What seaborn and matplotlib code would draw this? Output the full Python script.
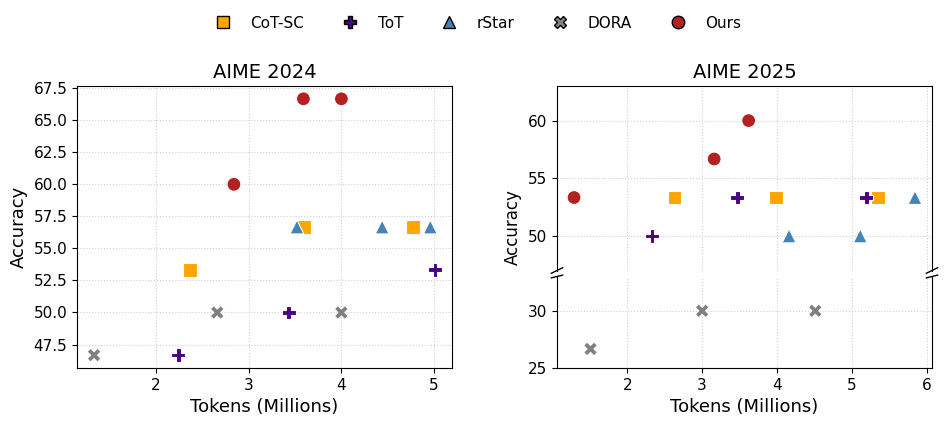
import matplotlib
matplotlib.use("Agg")
import matplotlib.pyplot as plt
import seaborn as sns
import pandas as pd
from matplotlib.lines import Line2D
from matplotlib.ticker import MultipleLocator

# ---------------- data ----------------
methods = ["CoT-SC", "ToT", "rStar", "DORA", "Ours"]

# AIME 2024
cot_sc_24_tokens = [2.37, 3.60, 4.77]
cot_sc_24_acc = [53.33, 56.67, 56.67]
tot_24_tokens = [2.24, 3.43, 5.01]
tot_24_acc = [46.67, 50.00, 53.33]
rstar_24_tokens = [3.52, 4.44, 4.96]
rstar_24_acc = [56.67, 56.67, 56.67]
dora_24_tokens = [1.33, 2.66, 4.00]
dora_24_acc = [46.67, 50.00, 50.00]
ours_24_tokens = [2.84, 3.59, 4.00]
ours_24_acc = [60.00, 66.67, 66.67]

# AIME 2025
cot_sc_25_tokens = [2.63, 3.98, 5.35]
cot_sc_25_acc = [53.33, 53.33, 53.33]
tot_25_tokens = [2.33, 3.47, 5.19]
tot_25_acc = [50.00, 53.33, 53.33]
rstar_25_tokens = [4.16, 5.11, 5.84]
rstar_25_acc = [50.00, 50.00, 53.33]
dora_25_tokens = [1.51, 3.00, 4.51]
dora_25_acc = [26.67, 30.00, 30.00]
ours_25_tokens = [1.29, 3.16, 3.62]
ours_25_acc = [53.33, 56.67, 60.00]

colors = {"CoT-SC": "#FFA500", "ToT": "#4B0082", "rStar": "#4682B4",
          "DORA": "#808080", "Ours": "#B22222"}
markers = {"CoT-SC": "s", "ToT": "P", "rStar": "^", "DORA": "X", "Ours": "o"}


def build(rows):
    recs = []
    for m, toks, accs in rows:
        for t, a in zip(toks, accs):
            recs.append({"Method": m, "Tokens": t, "Accuracy": a})
    return pd.DataFrame(recs)


df24 = build([("CoT-SC", cot_sc_24_tokens, cot_sc_24_acc),
              ("ToT", tot_24_tokens, tot_24_acc),
              ("rStar", rstar_24_tokens, rstar_24_acc),
              ("DORA", dora_24_tokens, dora_24_acc),
              ("Ours", ours_24_tokens, ours_24_acc)])
df25 = build([("CoT-SC", cot_sc_25_tokens, cot_sc_25_acc),
              ("ToT", tot_25_tokens, tot_25_acc),
              ("rStar", rstar_25_tokens, rstar_25_acc),
              ("DORA", dora_25_tokens, dora_25_acc),
              ("Ours", ours_25_tokens, ours_25_acc)])

# ---------------- figure ----------------
plt.rcParams["font.family"] = ["DejaVu Sans"]
fig = plt.figure(figsize=(9.49, 4.26), dpi=100)

W, H = 949, 426
def rect(x0, y0, x1, y1):
    return [x0 / W, 1 - y1 / H, (x1 - x0) / W, (y1 - y0) / H]

ax1 = fig.add_axes(rect(77, 86, 452, 368))
ax_top = fig.add_axes(rect(557, 86, 932, 270.5))
ax_bot = fig.add_axes(rect(557, 276.5, 932, 368), sharex=ax_top)

grid_kw = dict(linestyle=":", color="#d0d0d0", linewidth=0.8)
S = 100

sns.scatterplot(data=df24, x="Tokens", y="Accuracy", hue="Method", style="Method",
                palette=colors, markers=markers, hue_order=methods, style_order=methods,
                s=S, ax=ax1, legend=False, zorder=3)
ax1.set_title("AIME 2024", fontsize=14)
ax1.set_xlabel("Tokens (Millions)", fontsize=13)
ax1.set_ylabel("Accuracy", fontsize=13)
ax1.tick_params(labelsize=11)
ax1.grid(True, **grid_kw)
ax1.set_axisbelow(True)

for ax in (ax_top, ax_bot):
    sns.scatterplot(data=df25, x="Tokens", y="Accuracy", hue="Method", style="Method",
                    palette=colors, markers=markers, hue_order=methods, style_order=methods,
                    s=S, ax=ax, legend=False, zorder=3)
    ax.grid(True, **grid_kw)
    ax.set_axisbelow(True)
    ax.tick_params(labelsize=11)

ax_top.set_ylim(47, 63)
ax_bot.set_ylim(25, 33)
ax_top.yaxis.set_major_locator(MultipleLocator(5))
ax_bot.yaxis.set_major_locator(MultipleLocator(5))
ax_top.spines["bottom"].set_visible(False)
ax_bot.spines["top"].set_visible(False)
ax_top.tick_params(axis="x", bottom=False, labelbottom=False)
ax_top.set_xlabel("")
ax_bot.set_ylabel("")
ax_top.set_title("AIME 2025", fontsize=14)
ax_top.set_ylabel("Accuracy", fontsize=12, y=0.235)
ax_bot.set_xlabel("Tokens (Millions)", fontsize=13)

d = 0.015
kw = dict(transform=ax_top.transAxes, color="k", clip_on=False, linewidth=1)
ax_top.plot((-d, +d), (-d, +d), **kw)
ax_top.plot((1 - d, 1 + d), (-d, +d), **kw)
kw.update(transform=ax_bot.transAxes)
ax_bot.plot((-d, +d), (1 - d, 1 + d), **kw)
ax_bot.plot((1 - d, 1 + d), (1 - d, 1 + d), **kw)

handles = [Line2D([0], [0], marker=markers[m], color="w", markerfacecolor=colors[m],
                  markeredgecolor="black", markersize=9, linestyle="None")
           for m in methods]
fig.legend(handles, methods, loc="center", bbox_to_anchor=(0.5, 1 - 23 / H), ncol=5,
           frameon=False, fontsize=11, columnspacing=2.0, handletextpad=0.8)

fig.savefig("out.png", dpi=100)
